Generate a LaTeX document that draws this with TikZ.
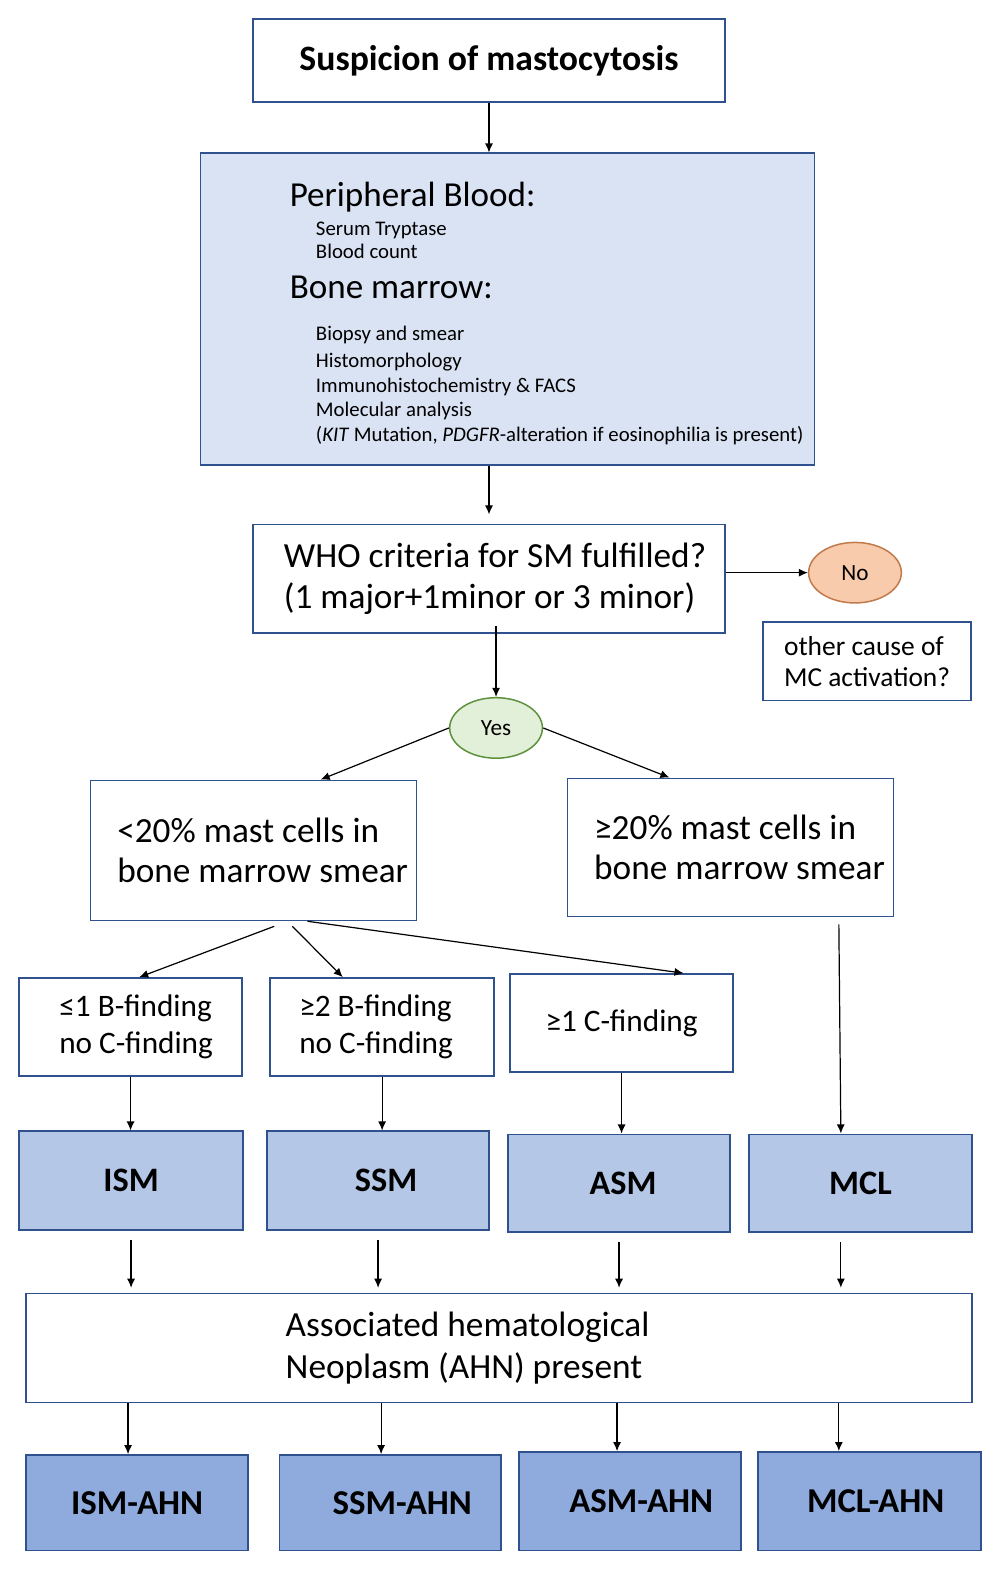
\documentclass[tikz,border=0pt]{standalone}
\usepackage{fontspec}
\setmainfont{Carlito}
\usepackage{xcolor}
\usetikzlibrary{shapes.geometric, arrows.meta, calc}

\definecolor{boxBorder}{HTML}{2F528F}
\definecolor{examFill}{HTML}{DAE3F3}
\definecolor{typeFill}{HTML}{B4C7E7}
\definecolor{ahnFill}{HTML}{8FAADC}
\definecolor{noFill}{HTML}{F8CBAD}
\definecolor{noBorder}{HTML}{C07A4B}
\definecolor{yesFill}{HTML}{E2F0D9}
\definecolor{yesBorder}{HTML}{5E9140}

\tikzset{
	box/.style = {draw = boxBorder, line width = 0.75pt, inner sep = 0pt, align = left},
	typebox/.style = {box, fill = typeFill, minimum height = 49pt, font = \bfseries\fontsize{17}{20}\selectfont},
	ahnbox/.style = {box, fill = ahnFill, minimum width = 110pt, minimum height = 48pt, font = \bfseries\fontsize{17.3}{20}\selectfont},
	findbox/.style = {box, minimum width = 110.5pt, minimum height = 48.5pt, font = \fontsize{15.5}{18}\selectfont},
	oval/.style = {ellipse, line width = 0.75pt, inner sep = 0pt, minimum width = 46pt, minimum height = 30pt, font = \fontsize{11.5}{13}\selectfont},
	arr/.style = {-{Latex[length = 4.5pt, width = 4pt]}, line width = 0.6pt}
}

\begin{document}
\begin{tikzpicture}[x = 0.5pt, y = -0.5pt]
	\useasboundingbox (0,0) rectangle (991.9,1568.1);

	% first steps
	\node [box, minimum width = 234pt, minimum height = 41pt, font = \bfseries\fontsize{17.7}{20}\selectfont] (susp) at (485,60) {Suspicion of mastocytosis};

	\node [box, fill = examFill, minimum width = 304.5pt, minimum height = 154.5pt] (exams) at (503.5,306.5) {};
	\begin{scope}[every node/.style = {anchor = mid west, inner sep = 0pt, font = \fontsize{10.3}{12}\selectfont}]
		\node [font = \fontsize{17.4}{20}\selectfont] (blood) at (287,200) {Peripheral Blood:};
		\node (tryptase) at (313,229) {Serum Tryptase};
		\node (count) at (313,252) {Blood count};
		\node [font = \fontsize{17.4}{20}\selectfont] (marrow) at (287,291) {Bone marrow:};
		\node (biopsy) at (313,333) {Biopsy and smear};
		\node (histo) at (313,360) {Histomorphology};
		\node (immuno) at (313,385) {Immunohistochemistry \& FACS};
		\node (molecular) at (313,408) {Molecular analysis};
		\node (kit) at (313,433) {(\textit{KIT} Mutation, \textit{PDGFR}-alteration if eosinophilia is present)};
	\end{scope}

	% WHO criteria
	\node [box, minimum width = 234pt, minimum height = 54pt, font = \fontsize{17.5}{20.5}\selectfont] (who) at (485,574) {\hspace*{6pt}WHO criteria for SM fulfilled?\\\hspace*{6pt}(1 major+1minor or 3 minor)};
	\node [oval, draw = noBorder, fill = noFill] (no) at (848,568) {No};
	\node [box, minimum width = 103pt, minimum height = 39pt, font = \fontsize{13.6}{15.5}\selectfont] (other) at (860,656) {other cause of\\MC activation?};
	\node [oval, draw = yesBorder, fill = yesFill] (yes) at (492,722) {Yes};

	% mast cell count
	\node [box, minimum width = 161.5pt, minimum height = 69.5pt, font = \fontsize{17.5}{20}\selectfont] (lowMC) at (251.5,843.5) {\hspace*{9pt}<20\% mast cells in\\\hspace*{9pt}bone marrow smear};
	\node [box, minimum width = 161.5pt, minimum height = 68.5pt, font = \fontsize{17.5}{20}\selectfont] (highMC) at (724.5,840.5) {\hspace*{9pt}≥20\% mast cells in\\\hspace*{9pt}bone marrow smear};

	% findings
	\node [findbox] (bOne) at (129.5,1018.5) {\hspace*{5.5pt}≤1 B-finding\\\hspace*{5.5pt}no C-finding};
	\node [findbox, minimum width = 111pt] (bTwo) at (379,1018.5) {≥2 B-finding\hspace*{6pt}\\no C-finding\hspace*{6pt}};
	\node [findbox] (cOne) at (616.5,1014.5) {≥1 C-finding};

	% subtypes
	\node [typebox, minimum width = 111pt] (ism) at (130,1171) {ISM};
	\node [typebox, minimum width = 110pt] (ssm) at (375,1171) {\hspace{8pt}SSM};
	\node [typebox, minimum width = 110pt, minimum height = 48.5pt] (asm) at (614,1173.5) {\hspace{4pt}ASM};
	\node [typebox, minimum width = 110.5pt, minimum height = 48.5pt] (mcl) at (853.5,1173.5) {MCL};

	\node [box, minimum width = 469pt, minimum height = 54pt] (ahn) at (495,1337) {};
	\node [anchor = west, inner sep = 0pt, align = left, font = \fontsize{17.5}{21}\selectfont] (ahnText) at (283,1337) {Associated hematological\\Neoplasm (AHN) present};

	\node [ahnbox, minimum height = 47.5pt] (ismA) at (136,1490.5) {ISM-AHN};
	\node [ahnbox, minimum height = 47.5pt] (ssmA) at (387,1490.5) {\hspace{12pt}SSM-AHN};
	\node [ahnbox, minimum height = 49pt] (asmA) at (625,1489) {\hspace{11pt}ASM-AHN};
	\node [ahnbox, minimum width = 110.5pt, minimum height = 49pt] (mclA) at (862.5,1489) {\hspace{6pt}MCL-AHN};

	% connectors
	\draw [arr] (susp.south) -- (susp.south |- exams.north);
	\draw [arr] (who.north |- exams.south) -- ([yshift = 4.5pt]who.north);
	\draw [arr] (who.east |- no.west) -- (no.west);
	\draw [arr] ([yshift = 4pt]yes.north |- who.south) -- (yes.north);
	\draw [arr] (yes.west) -- ([xshift = 33.25pt]lowMC.north);
	\draw [arr] (yes.east) -- ([xshift = -30.25pt]highMC.north);

	\draw [arr] ([xshift = 10.25pt, yshift = -2.5pt]lowMC.south) -- ([xshift = 4.25pt]bOne.north);
	\draw [arr] ([xshift = 19.25pt, yshift = -2.5pt]lowMC.south) -- ([xshift = -19.5pt]bTwo.north);
	\draw [arr] ([xshift = 26.75pt]lowMC.south) -- ([xshift = 30.75pt]cOne.north);
	\draw [arr] ([xshift = 53.75pt, yshift = -3.5pt]highMC.south) -- ([xshift = -9.75pt]mcl.north);

	\draw [arr] (bOne.south) -- (bOne.south |- ism.north);
	\draw [arr] (bTwo.south) -- (bTwo.south |- ssm.north);
	\draw [arr] (cOne.south) -- (cOne.south |- asm.north);

	\coordinate (mclOut) at ([xshift = -9.75pt]mcl.south);
	\foreach \from in {ism, ssm, asm}
		\draw [arr] ([yshift = -4.5pt]\from.south) -- ([yshift = 2.5pt]\from.south |- ahn.north);
	\draw [arr] ([yshift = -4.5pt]mclOut) -- ([yshift = 2.5pt]mclOut |- ahn.north);

	\draw [arr] ([xshift = -1.5pt]ism.south |- ahn.south) -- ([xshift = -1.5pt]ism.south |- ismA.north);
	\draw [arr] ([xshift = 1.5pt]ssm.south |- ahn.south) -- ([xshift = 1.5pt]ssm.south |- ssmA.north);
	\draw [arr] ([xshift = -1pt]asm.south |- ahn.south) -- ([xshift = -1pt]asm.south |- asmA.north);
	\draw [arr] ([xshift = -1pt]mclOut |- ahn.south) -- ([xshift = -1pt]mclOut |- mclA.north);
\end{tikzpicture}
\end{document}
